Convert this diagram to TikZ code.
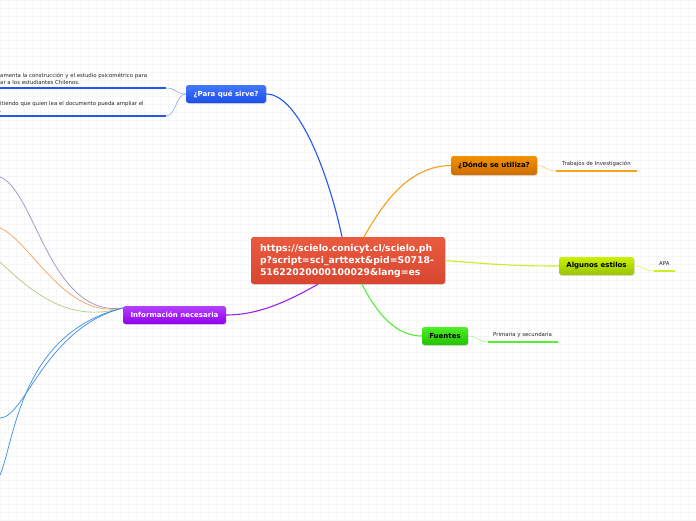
\documentclass[tikz,border=0pt]{standalone}
\usepackage{fontspec}
\setmainfont{DejaVu Sans}
\usetikzlibrary{shadows}
\definecolor{cRedT}{HTML}{EA5A40}
\definecolor{cRedB}{HTML}{D8462F}
\definecolor{cBlueT}{HTML}{4477FF}
\definecolor{cBlueB}{HTML}{1A4EE8}
\definecolor{cBlue}{HTML}{2258F0}
\definecolor{cOrT}{HTML}{F29200}
\definecolor{cOrB}{HTML}{CC6E00}
\definecolor{cOr}{HTML}{F7A01A}
\definecolor{cYeT}{HTML}{CCF000}
\definecolor{cYeB}{HTML}{99C400}
\definecolor{cYe}{HTML}{CCEE22}
\definecolor{cGrT}{HTML}{4CF025}
\definecolor{cGrB}{HTML}{22C200}
\definecolor{cGr}{HTML}{55EE33}
\definecolor{cPuT}{HTML}{B640FF}
\definecolor{cPuB}{HTML}{9000EE}
\definecolor{cPu}{HTML}{A020F0}
\definecolor{cLav}{HTML}{9A90CC}
\definecolor{cLOr}{HTML}{F7A25A}
\definecolor{cLGr}{HTML}{A6D07C}
\definecolor{cLBl}{HTML}{3A8EE6}
\definecolor{cGrid}{HTML}{F6F6F6}
\tikzset{
  topic/.style={rounded corners=2.5pt, inner sep=0pt, font=\fontsize{7}{8}\selectfont\bfseries,
    drop shadow={shadow xshift=0.8pt, shadow yshift=-0.8pt, opacity=0.25}},
  leaf/.style={inner sep=0pt, font=\fontsize{5.4}{7.2}\selectfont, text=black!85},
  conn/.style={line width=1.1pt},
  thin/.style={line width=0.5pt},
  uline/.style={line width=2pt},
  inc/.style={line width=0.7pt},
}
\begin{document}
\begin{tikzpicture}[x=1pt,y=-1pt]
\useasboundingbox (0,0) rectangle (696,520);
\fill[white] (0,0) rectangle (696,520);
\foreach \gx in {0,8,...,696} {\draw[cGrid, line width=0.5pt] (\gx,0) -- (\gx,520);}
\foreach \gy in {0,8,...,520} {\draw[cGrid, line width=0.5pt] (0,\gy) -- (696,\gy);}

% nodes
\node[topic, top color=cRedT, bottom color=cRedB, text=white, minimum width=194, minimum height=47,
  font=\fontsize{9.3}{12}\selectfont\bfseries, text width=176, align=left] (c) at (348,260.5)
  {https://scielo.conicyt.cl/scielo.ph\\p?script=sci\_arttext\&pid=S0718-\\51622020000100029\&lang=es};
\node[topic, top color=cBlueT, bottom color=cBlueB, text=white, minimum width=80, minimum height=18] (p) at (226,94) {¿Para qué sirve?};
\node[topic, top color=cOrT, bottom color=cOrB, text=black, minimum width=86, minimum height=19] (d) at (494,165.5) {¿Dónde se utiliza?};
\node[topic, top color=cYeT, bottom color=cYeB, text=black, minimum width=75, minimum height=18] (a) at (596.5,266) {Algunos estilos};
\node[topic, top color=cGrT, bottom color=cGrB, text=black, minimum width=46, minimum height=18] (f) at (445,336) {Fuentes};
\node[topic, top color=cPuT, bottom color=cPuB, text=white, minimum width=103, minimum height=18] (i) at (174.5,315) {Información necesaria};

% leaves
\node[leaf, anchor=south west, align=left] (l1) at (0,85) {amenta la construcción y el estudio psicométrico para\\ar a los estudiantes Chilenos.};
\coordinate (l1e) at (166,88);
\draw[cBlue, uline] (0,88) -- (l1e);
\node[leaf, anchor=south west, align=left] (l2) at (0,113) {itiendo que quien lea el documento pueda ampliar el\\.};
\coordinate (l2e) at (166,116);
\draw[cBlue, uline] (0,116) -- (l2e);

\node[leaf, anchor=west] (t) at (562,163.5) {Trabajos de Investigación};
\coordinate (ts) at (556,171);
\draw[cOr, uline] (ts) -- (637,171);

\node[leaf, anchor=west] (apa) at (659,264) {APA};
\coordinate (as) at (654,271);
\draw[cYe, uline] (as) -- (675,271);

\node[leaf, anchor=west] (ps) at (493,335) {Primaria y secundaria};
\coordinate (fs) at (488,342);
\draw[cGr, uline] (fs) -- (558,342);

% main connectors
\draw[cBlue, conn] (p.east) .. controls (300,94) and (330,180) .. ([xshift=-6]c.north);
\draw[cOr, conn] ([xshift=16]c.north) .. controls (385,200) and (410,166) .. (d.west);
\draw[cYe, conn] (c.east) .. controls (500,265) and (520,266) .. (a.west);
\draw[cGr, conn] ([xshift=14]c.south) .. controls (380,320) and (400,336) .. (f.west);
\draw[cPu, conn] ([xshift=-30]c.south) .. controls (290,300) and (260,315) .. (i.east);

% leaf connectors
\draw[cBlue!60, thin] (p.west) .. controls (176,94) and (176,88) .. (l1e);
\draw[cBlue!60, thin] (p.west) .. controls (176,94) and (176,116) .. (l2e);
\draw[cOr!60, thin] (d.east) .. controls (546,166) and (546,171) .. (ts);
\draw[cYe!80, thin] (a.east) .. controls (644,266) and (644,271) .. (as);
\draw[cGr!60, thin] (f.east) .. controls (478,336) and (478,342) .. (fs);

% incoming lines to Información necesaria
\coordinate (ip) at ([yshift=7]i.west);
\coordinate (e1) at (0,177);
\coordinate (e2) at (0,228);
\coordinate (e3) at (0,262);
\coordinate (e4) at (0,418);
\coordinate (e5) at (0,475);
\draw[cLav, inc] (e1) .. controls (35,190) and (50,318) .. (ip);
\draw[cLOr, inc] (e2) .. controls (30,240) and (65,320) .. (ip);
\draw[cLGr, inc] (e3) .. controls (35,295) and (70,323) .. (ip);
\draw[cLBl, inc] (e4) .. controls (25,418) and (45,328) .. (ip);
\draw[cLBl, inc] (e5) .. controls (15,440) and (20,333) .. (ip);
\end{tikzpicture}
\end{document}
